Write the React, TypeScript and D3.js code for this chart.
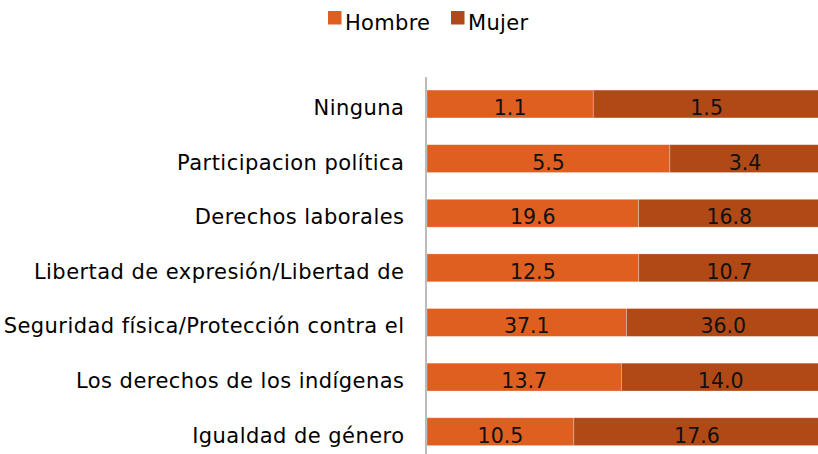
import React from 'react'
import * as d3 from 'd3'

const WIDTH = 818
const HEIGHT = 454
const FONT = '"DejaVu Sans", sans-serif'

const categories = [
  'Ninguna',
  'Participacion política',
  'Derechos laborales',
  'Libertad de expresión/Libertad de',
  'Seguridad física/Protección contra el',
  'Los derechos de los indígenas',
  'Igualdad de género',
]
const hombre = [1.1, 5.5, 19.6, 12.5, 37.1, 13.7, 10.5]
const mujer = [1.5, 3.4, 16.8, 10.7, 36.0, 14.0, 17.6]

const seriesNames = ['Hombre', 'Mujer']
const seriesColors = ['#DE5F20', '#B04915']

const LABEL_SPACING = 0.45

export default function App() {
  // 100% stacked: each row is split by its share of the total
  const x = d3.scaleLinear().domain([0, 1]).range([427, 820])
  const y = d3.scaleBand().domain(categories).range([76.7, 459]).paddingInner(0.49).paddingOuter(0.245)
  const bw = y.bandwidth()

  const rows = categories.map((c, i) => {
    const total = hombre[i] + mujer[i]
    return { c, vals: [hombre[i], mujer[i]], shares: [hombre[i] / total, mujer[i] / total] }
  })

  return (
    <svg width={WIDTH} height={HEIGHT} style={{ position: 'absolute', left: 0, top: 0, background: '#fff' }}
      fontFamily={FONT}>
      {/* legend */}
      <g fontSize={21} letterSpacing={0.3}>
        {seriesNames.map((s, i) => {
          const lx = [328, 451][i]
          return (
            <g key={s}>
              <rect x={lx} y={11} width={13.5} height={13.5} fill={seriesColors[i]} />
              <text x={lx + 17} y={29.5} fill="#000">{s}</text>
            </g>
          )
        })}
      </g>

      {/* bars */}
      {rows.map((r) => {
        let acc = 0
        const yy = y(r.c) as number
        return (
          <g key={r.c}>
            {r.shares.map((s, j) => {
              const x0 = x(acc)
              acc += s
              const x1 = x(acc)
              return (
                <g key={j}>
                  <rect x={x0} y={yy} width={x1 - x0} height={bw} fill={seriesColors[j]}
                    stroke="#fff" strokeOpacity={0.35} strokeWidth={0.75} />
                  <text x={(x0 + x1) / 2} y={yy + bw / 2 + 11} textAnchor="middle" fontSize={20.5}
                    fill="#111">{r.vals[j].toFixed(1)}</text>
                </g>
              )
            })}
          </g>
        )
      })}

      {/* category axis */}
      <line x1={426} x2={426} y1={77} y2={HEIGHT} stroke="#A6A6A6" strokeWidth={1.5} />
      {categories.map((c) => (
        <text key={c} x={404 + LABEL_SPACING} y={(y(c) as number) + bw / 2 + 11} textAnchor="end" fontSize={21}
          letterSpacing={LABEL_SPACING} fill="#000">{c}</text>
      ))}
    </svg>
  )
}
